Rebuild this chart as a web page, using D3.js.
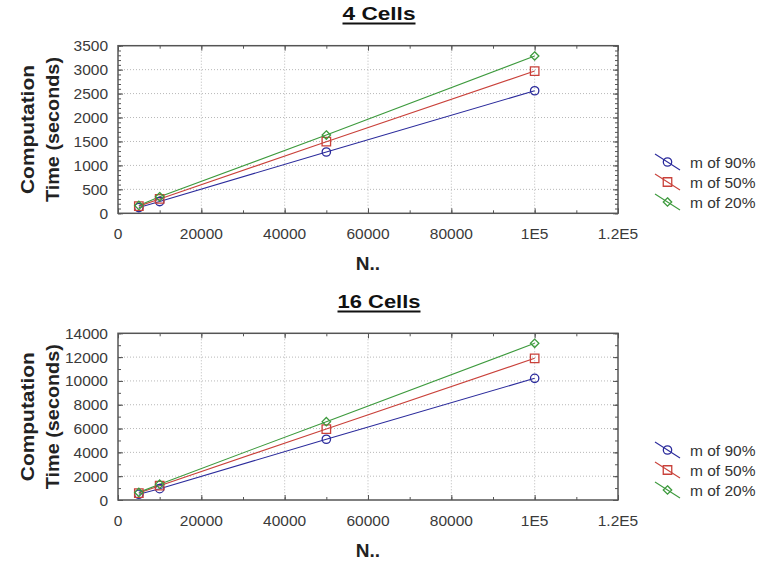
<!DOCTYPE html>
<html><head><meta charset="utf-8">
<script src="https://cdn.jsdelivr.net/npm/d3@7"></script>
<style>
html,body{margin:0;padding:0;background:#fff;}
svg{display:block;}
text{font-family:Arial,"Liberation Sans",sans-serif;}
</style></head>
<body>
<svg id="chart" width="767" height="564"></svg>
<script>
// ---- data ----
const nValues = [5000, 10000, 50000, 100000];
const seriesNames = ["m of 90%", "m of 50%", "m of 20%"];
const seriesColors = ["#2b2b9c", "#c9413a", "#3d9a3d"];
const seriesSymbols = ["circle", "square", "diamond"];

const cells4_m90 = [120, 245, 1280, 2560];
const cells4_m50 = [150, 300, 1495, 2970];
const cells4_m20 = [165, 345, 1635, 3285];

const cells16_m90 = [480, 950, 5100, 10220];
const cells16_m50 = [580, 1200, 5960, 11900];
const cells16_m20 = [640, 1330, 6580, 13160];

const xTickValues = [0, 20000, 40000, 60000, 80000, 100000, 120000];
const xTickLabels = ["0", "20000", "40000", "60000", "80000", "1E5", "1.2E5"];
const yTicks4 = [0, 500, 1000, 1500, 2000, 2500, 3000, 3500];
const yTicks16 = [0, 2000, 4000, 6000, 8000, 10000, 12000, 14000];

const panels = [
  {title: "4 Cells", titleLen: 73, titleY: 20, top: 45.7, bottom: 213.3, yMax: 3500, yTicks: yTicks4, yMinor: 100,
   series: [cells4_m90, cells4_m50, cells4_m20], legendY: [162, 182, 202]},
  {title: "16 Cells", titleLen: 83, titleY: 308, top: 333.3, bottom: 500, yMax: 14000, yTicks: yTicks16, yMinor: 1000,
   series: [cells16_m90, cells16_m50, cells16_m20], legendY: [450, 470, 490]}
];

const svg = d3.select("#chart");
const left = 118, right = 618;

function symbolPath(type){
  if(type === "circle") return d3.symbol().type(d3.symbolCircle).size(55)();
  if(type === "square") return d3.symbol().type(d3.symbolSquare).size(72)();
  return d3.symbol().type(d3.symbolDiamond2 || d3.symbolDiamond).size(45)();
}

panels.forEach(p => {
  const g = svg.append("g");
  const x = d3.scaleLinear().domain([0, 120000]).range([left, right]);
  const y = d3.scaleLinear().domain([0, p.yMax]).range([p.bottom, p.top]);

  // grid
  g.append("g").selectAll("line").data(xTickValues.slice(1, -1)).join("line")
    .attr("x1", d => x(d)).attr("x2", d => x(d)).attr("y1", p.top).attr("y2", p.bottom)
    .attr("stroke", "#b8b8b8").attr("stroke-width", 1).attr("stroke-dasharray", "1,2");
  g.append("g").selectAll("line").data(p.yTicks.slice(1, -1)).join("line")
    .attr("x1", left).attr("x2", right).attr("y1", d => y(d)).attr("y2", d => y(d))
    .attr("stroke", "#b8b8b8").attr("stroke-width", 1).attr("stroke-dasharray", "1,2");

  // inward ticks via d3 axes
  const yMinorVals = d3.range(0, p.yMax + 1, p.yMinor);
  const xMinorVals = d3.range(0, 120001, 10000);
  const axStyle = sel => { sel.selectAll(".domain").remove(); sel.selectAll("line").attr("stroke", "#555"); };

  g.append("g").attr("transform", `translate(${left},0)`)
    .call(d3.axisRight(y).tickValues(yMinorVals).tickSize(3).tickFormat("")).call(axStyle);
  g.append("g").attr("transform", `translate(${left},0)`)
    .call(d3.axisRight(y).tickValues(p.yTicks).tickSize(5).tickFormat("")).call(axStyle);
  g.append("g").attr("transform", `translate(${right},0)`)
    .call(d3.axisLeft(y).tickValues(yMinorVals).tickSize(3).tickFormat("")).call(axStyle);
  g.append("g").attr("transform", `translate(${right},0)`)
    .call(d3.axisLeft(y).tickValues(p.yTicks).tickSize(5).tickFormat("")).call(axStyle);
  g.append("g").attr("transform", `translate(0,${p.bottom})`)
    .call(d3.axisTop(x).tickValues(xMinorVals).tickSize(3).tickFormat("")).call(axStyle);
  g.append("g").attr("transform", `translate(0,${p.bottom})`)
    .call(d3.axisTop(x).tickValues(xTickValues).tickSize(5).tickFormat("")).call(axStyle);
  g.append("g").attr("transform", `translate(0,${p.top})`)
    .call(d3.axisBottom(x).tickValues(xMinorVals).tickSize(3).tickFormat("")).call(axStyle);
  g.append("g").attr("transform", `translate(0,${p.top})`)
    .call(d3.axisBottom(x).tickValues(xTickValues).tickSize(5).tickFormat("")).call(axStyle);

  // frame
  g.append("rect").attr("x", left).attr("y", p.top).attr("width", right - left).attr("height", p.bottom - p.top)
    .attr("fill", "none").attr("stroke", "#555").attr("stroke-width", 1.5);

  // tick labels
  g.append("g").selectAll("text").data(p.yTicks).join("text")
    .attr("x", 108).attr("y", d => y(d) + 5.5).attr("text-anchor", "end")
    .attr("font-size", 15.5).attr("fill", "#3a3a3a").text(d => d);
  g.append("g").selectAll("text").data(xTickValues).join("text")
    .attr("x", d => x(d)).attr("y", p.bottom + 25.5).attr("text-anchor", "middle")
    .attr("font-size", 15.5).attr("fill", "#3a3a3a").text((d, i) => xTickLabels[i]);

  // axis titles
  g.append("text").attr("x", x(60000)).attr("y", p.bottom + 57).attr("text-anchor", "middle")
    .attr("font-size", 19).attr("font-weight", "bold").attr("fill", "#222").text("N..");
  const cy = (p.top + p.bottom) / 2;
  g.append("text").attr("transform", `translate(34,${cy}) rotate(-90)`).attr("text-anchor", "middle")
    .attr("font-size", 19).attr("font-weight", "bold").attr("fill", "#222")
    .attr("textLength", 129).attr("lengthAdjust", "spacingAndGlyphs").text("Computation");
  g.append("text").attr("transform", `translate(59,${cy}) rotate(-90)`).attr("text-anchor", "middle")
    .attr("font-size", 19).attr("font-weight", "bold").attr("fill", "#222")
    .attr("textLength", 145).attr("lengthAdjust", "spacingAndGlyphs").text("Time (seconds)");

  // title
  const tx = 379;
  g.append("text").attr("x", tx - p.titleLen / 2).attr("y", p.titleY)
    .attr("font-size", 18).attr("font-weight", "bold").attr("fill", "#111")
    .attr("textLength", p.titleLen).attr("lengthAdjust", "spacingAndGlyphs").text(p.title);
  g.append("line").attr("x1", tx - p.titleLen / 2).attr("x2", tx + p.titleLen / 2)
    .attr("y1", p.titleY + 3.5).attr("y2", p.titleY + 3.5).attr("stroke", "#111").attr("stroke-width", 2);

  // series
  const line = d3.line().x((d, i) => x(nValues[i])).y(d => y(d));
  p.series.forEach((vals, si) => {
    g.append("path").datum(vals).attr("d", line).attr("fill", "none")
      .attr("stroke", seriesColors[si]).attr("stroke-width", 1.1);
  });
  p.series.forEach((vals, si) => {
    g.append("g").selectAll("path").data(vals).join("path")
      .attr("d", symbolPath(seriesSymbols[si]))
      .attr("transform", (d, i) => `translate(${x(nValues[i])},${y(d)})`)
      .attr("fill", "none").attr("stroke", seriesColors[si]).attr("stroke-width", 1.3);
  });

  // legend
  seriesNames.forEach((name, si) => {
    const ly = p.legendY[si];
    const lg = g.append("g");
    lg.append("line").attr("x1", 655).attr("y1", ly - 8).attr("x2", 680).attr("y2", ly + 8)
      .attr("stroke", seriesColors[si]).attr("stroke-width", 1.1);
    lg.append("path").attr("d", symbolPath(seriesSymbols[si]))
      .attr("transform", `translate(667.5,${ly})`)
      .attr("fill", "none").attr("stroke", seriesColors[si]).attr("stroke-width", 1.3);
    lg.append("text").attr("x", 690).attr("y", ly + 5.5).attr("font-size", 15.5).attr("fill", "#333").text(name);
  });
});
</script>
</body></html>
